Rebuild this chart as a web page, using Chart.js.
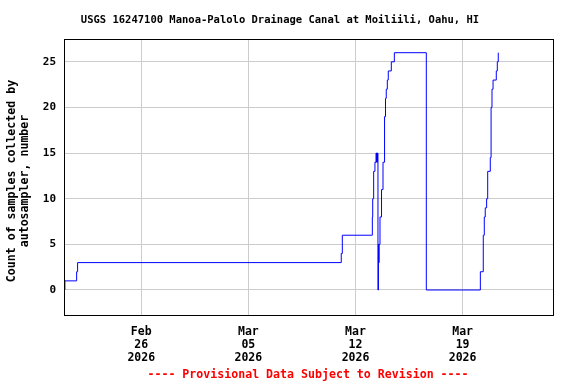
<!DOCTYPE html>
<html lang="en">
<head>
    <meta charset="UTF-8">
    <title>USGS 16247100 samples</title>
    <script src="https://cdnjs.cloudflare.com/ajax/libs/Chart.js/4.4.1/chart.umd.min.js"></script>
    <style>
        body { margin: 0; background: #fff; }
        #wrap { width: 576px; height: 384px; }
    </style>
</head>
<body>
    <div id="wrap"><canvas id="chart" width="576" height="384"></canvas></div>

    <script>
        // times when the count changed, and the new count (stepped line)
        const times = [
            "2026-02-21T00:15", "2026-02-21T00:15", "2026-02-21T18:40", "2026-02-21T20:10",
            "2026-03-11T01:40", "2026-03-11T03:20",
            "2026-03-13T02:25", "2026-03-13T03:00", "2026-03-13T04:30", "2026-03-13T06:30",
            "2026-03-13T08:10", "2026-03-13T09:00", "2026-03-13T09:30", "2026-03-13T10:00",
            "2026-03-13T10:30", "2026-03-13T11:15", "2026-03-13T12:00", "2026-03-13T12:30",
            "2026-03-13T13:00", "2026-03-13T14:25", "2026-03-13T16:50", "2026-03-13T19:10",
            "2026-03-13T21:35", "2026-03-13T23:05", "2026-03-14T00:15", "2026-03-14T01:55",
            "2026-03-14T03:25", "2026-03-14T08:10", "2026-03-14T12:55",
            "2026-03-16T15:05",
            "2026-03-20T03:50", "2026-03-20T08:25", "2026-03-20T10:00", "2026-03-20T11:30",
            "2026-03-20T13:40", "2026-03-20T15:20", "2026-03-20T19:25", "2026-03-20T20:40",
            "2026-03-20T22:05", "2026-03-20T23:45", "2026-03-21T04:50", "2026-03-21T06:25",
            "2026-03-21T07:55"
        ];
        const counts = [
            0, 1, 2, 3,
            4, 6,
            8, 10, 13, 14,
            15, 14, 15, 14,
            15, 0, 5, 3,
            5, 8, 11, 14,
            19, 21, 22, 23,
            24, 25, 26,
            0,
            2, 6, 8, 9,
            10, 13, 14.5, 20,
            22, 23, 24, 25,
            26
        ];

        const tickDates = ["2026-02-26T00:00", "2026-03-05T00:00", "2026-03-12T00:00", "2026-03-19T00:00"];
        const tickLabels = [["Feb", "26", "2026"], ["Mar", "05", "2026"], ["Mar", "12", "2026"], ["Mar", "19", "2026"]];
        const yTicks = [0, 5, 10, 15, 20, 25];

        const xMin = "2026-02-20T22:50";
        const xMax = "2026-03-24T23:20";
        const yMin = -2.85;
        const yMax = 27.5;

        const titleText = "USGS 16247100 Manoa-Palolo Drainage Canal at Moiliili, Oahu, HI";
        const yTitle = ["Count of samples collected by", "autosampler, number"];
        const footerText = "---- Provisional Data Subject to Revision ----";

        const ms = s => Date.parse(s + ":00Z");
        const mono = "'DejaVu Sans Mono', monospace";

        const points = times.map((t, i) => ({ x: ms(t), y: counts[i] }));
        const tickMs = tickDates.map(ms);

        // title, axis title, footer and the box around the plot
        const textPlugin = {
            id: "usgsText",
            afterDraw(chart) {
                const ctx = chart.ctx;
                const a = chart.chartArea;
                ctx.save();
                ctx.strokeStyle = "#000";
                ctx.lineWidth = 1;
                ctx.strokeRect(a.left + 0.5, a.top + 0.5, a.right - a.left - 1, a.bottom - a.top - 1);

                ctx.fillStyle = "#000";
                ctx.textAlign = "center";
                ctx.textBaseline = "middle";
                ctx.font = "bold 10.5px " + mono;
                ctx.fillText(titleText, 280, 20);

                ctx.fillStyle = "#ff0000";
                ctx.font = "bold 11.6px " + mono;
                ctx.fillText(footerText, 308, 375);

                ctx.fillStyle = "#000";
                ctx.translate(0, 181);
                ctx.rotate(-Math.PI / 2);
                ctx.fillText(yTitle[0], 0, 12);
                ctx.fillText(yTitle[1], 0, 25);
                ctx.restore();
            }
        };

        new Chart(document.getElementById("chart"), {
            type: "line",
            data: {
                datasets: [{
                    data: points,
                    borderColor: "#0000ff",
                    borderWidth: 1,
                    stepped: true,
                    pointRadius: 0,
                    fill: false
                }]
            },
            options: {
                responsive: false,
                animation: false,
                events: [],
                layout: { padding: { top: 39, right: 22, left: 0, bottom: 0 } },
                plugins: { legend: { display: false }, tooltip: { enabled: false } },
                scales: {
                    x: {
                        type: "linear",
                        min: ms(xMin),
                        max: ms(xMax),
                        afterBuildTicks: scale => { scale.ticks = tickMs.map(v => ({ value: v })); },
                        afterFit: scale => { scale.height = 68; },
                        grid: { color: "#cccccc", lineWidth: 1, drawTicks: false },
                        border: { display: false },
                        ticks: {
                            autoSkip: false,
                            maxRotation: 0,
                            padding: 10,
                            color: "#000",
                            font: { family: mono, size: 11.5, weight: "bold", lineHeight: 1.13 },
                            callback: (v) => tickLabels[tickMs.indexOf(v)] || ""
                        }
                    },
                    y: {
                        min: yMin,
                        max: yMax,
                        afterBuildTicks: scale => { scale.ticks = yTicks.map(v => ({ value: v })); },
                        afterFit: scale => { scale.width = 64; },
                        grid: { color: "#cccccc", lineWidth: 1, drawTicks: false },
                        border: { display: false },
                        ticks: {
                            padding: 8,
                            color: "#000",
                            font: { family: mono, size: 11, weight: "bold" }
                        }
                    }
                }
            },
            plugins: [textPlugin]
        });
    </script>
</body>
</html>
